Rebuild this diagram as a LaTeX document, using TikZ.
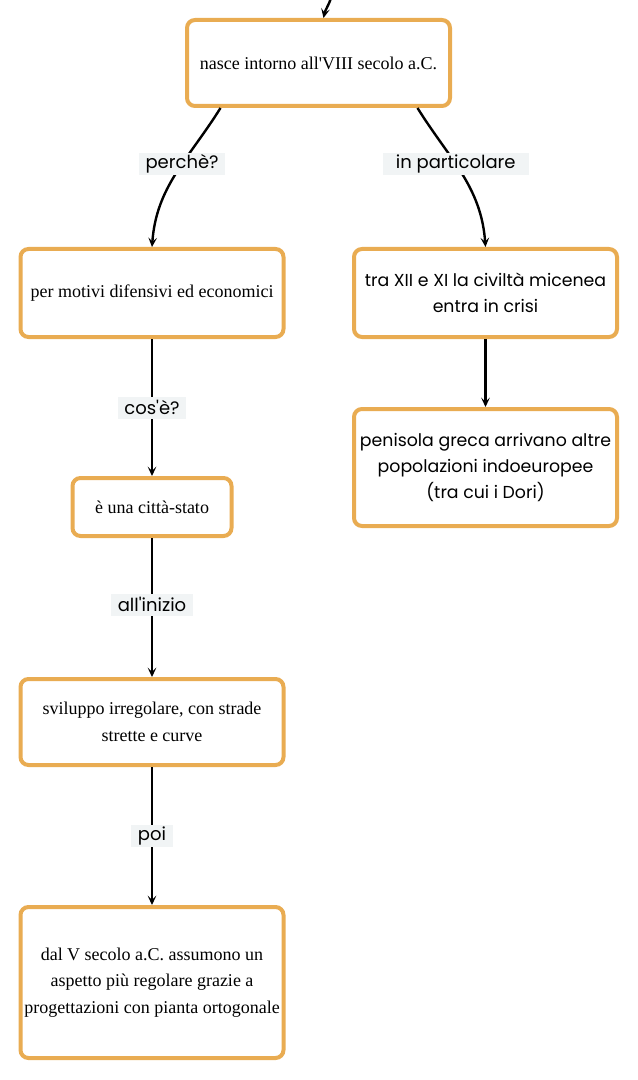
\documentclass[tikz,border=0pt]{standalone}
\usepackage{fontspec}
\setmainfont{Liberation Serif}
\newfontfamily\labelfont{Poppins}
\usetikzlibrary{arrows.meta,calc}
\definecolor{boxorange}{HTML}{E9AC52}
\definecolor{labelgray}{HTML}{F1F4F5}
\tikzset{
  concept/.style={draw=boxorange, line width=3pt, rounded corners=6pt, fill=white, align=center, inner sep=0pt, font=\fontsize{13.5}{20}\selectfont},
  conceptsans/.style={concept, font=\labelfont\fontsize{13}{19.5}\selectfont},
  link/.style={line width=1.8pt, -{Stealth[length=7pt,width=6.5pt,inset=3pt]}},
  linklabel/.style={fill=labelgray, font=\labelfont\fontsize{13.5}{14}\selectfont, inner xsep=5pt, inner ysep=0pt, minimum height=16.5pt}
}
\begin{document}
\begin{tikzpicture}[x=0.75pt,y=0.75pt,yscale=-1]
    \useasboundingbox (0,0) rectangle (638,1080);

    % Concept boxes
    \node [concept, minimum width=197.25pt, minimum height=64.5pt] (nasce) at (318.5,63) {nasce intorno all\textquotesingle VIII secolo a.C.};
    \node [concept, minimum width=197.25pt, minimum height=66pt] (motivi) at (152,293) {per motivi difensivi ed economici};
    \node [conceptsans, minimum width=197.25pt, minimum height=66pt] (crisi) at (485.5,293) {tra XII e XI la civiltà micenea\\entra in crisi};
    \node [conceptsans, minimum width=197.25pt, minimum height=87.75pt] (dori) at (485.5,467.5) {penisola greca arrivano altre\\popolazioni indoeuropee\\(tra cui i Dori)};
    \node [concept, minimum width=119.25pt, minimum height=43.5pt] (citta) at (152,507) {è una città-stato};
    \node [concept, minimum width=197.25pt, minimum height=64.5pt] (irregolare) at (152,722) {sviluppo irregolare, con strade\\strette e curve};
    \node [concept, minimum width=197.25pt, minimum height=113.25pt] (ortogonale) at (152,982.5) {dal V secolo a.C. assumono un\\aspetto più regolare grazie a\\progettazioni con pianta ortogonale};

    % Incoming link
    \coordinate (sopra) at (331,-2);
    \draw [link] (sopra) to[out=108,in=-78] ($(nasce.north)+(5,0)$);

    % Links
    \draw [link] ($(nasce.south)+(-98,0)$) to[out=122,in=274] node [linklabel, pos=0.42] {perchè?} (motivi.north);
    \draw [link] ($(nasce.south)+(99,0)$) to[out=58,in=266] node [linklabel, pos=0.42, minimum width=109.5pt] {in particolare} (crisi.north);
    \draw [link] (motivi) -- node [linklabel] {cos\textquotesingle è?} (citta);
    \draw [link] (crisi) -- (dori);
    \draw [link] (citta) -- node [linklabel, pos=0.48] {all\textquotesingle inizio} (irregolare);
    \draw [link] (irregolare) -- node [linklabel] {poi} (ortogonale);

\end{tikzpicture}
\end{document}
